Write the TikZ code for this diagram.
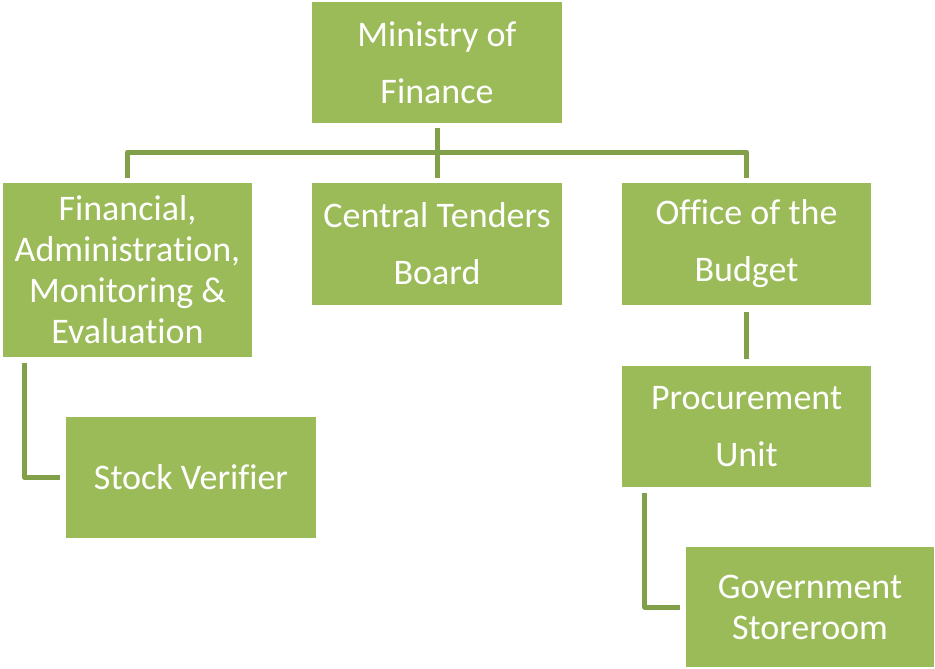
\documentclass[tikz,border=0pt]{standalone}
\usepackage{fontspec}
\setmainfont{Carlito}[Ligatures={NoCommon,NoContextual,NoRare}]
\usetikzlibrary{calc}
\definecolor{boxgreen}{HTML}{9BBB59}
\definecolor{linegreen}{HTML}{82A04A}
\tikzset{
  orgbox/.style={draw=none, fill=boxgreen, text=white, align=center,
    inner sep=0pt, minimum width=250pt, minimum height=121pt,
    font=\fontsize{36}{57}\selectfont},
  tightbox/.style={orgbox, font=\fontsize{36}{41}\selectfont},
  conn/.style={draw=linegreen, line width=5pt, line join=round}
}
\begin{document}
\begin{tikzpicture}[x=1pt,y=-1pt]
\useasboundingbox (0,0) rectangle (935,669);
\node[orgbox] (min) at (437,62.5) {Ministry of\\Finance};
\node[tightbox, minimum width=249pt, minimum height=174pt] (fin) at (127.5,270) {Financial,\\Administration,\\Monitoring \&\\Evaluation};
\node[orgbox, minimum height=122pt] (ctb) at (437,244) {Central Tenders\\Board};
\node[orgbox, minimum width=249pt, minimum height=122pt] (ob) at (746.5,244) {Office of the\\Budget};
\node[orgbox, minimum width=249pt] (pu) at (746.5,426.5) {Procurement\\Unit};
\node[orgbox] (sv) at (191,477.5) {Stock Verifier};
\node[tightbox, minimum width=248pt, minimum height=120pt] (gs) at (810,607) {Government\\Storeroom};
\coordinate (bus) at (437,152);
\draw[conn] ([yshift=5pt]fin.north) |- (bus) -| ([yshift=5pt]ob.north);
\draw[conn] ([yshift=-5pt]min.south) -- ([yshift=5pt]ctb.north);
\draw[conn] ($(fin.south west)+(22,6)$) |- ([xshift=-6pt]sv.west);
\draw[conn] ([yshift=-7pt]ob.south) -- ([yshift=7pt]pu.north);
\draw[conn] ($(pu.south west)+(23,6)$) |- ([xshift=-6pt]gs.west);
\end{tikzpicture}
\end{document}
